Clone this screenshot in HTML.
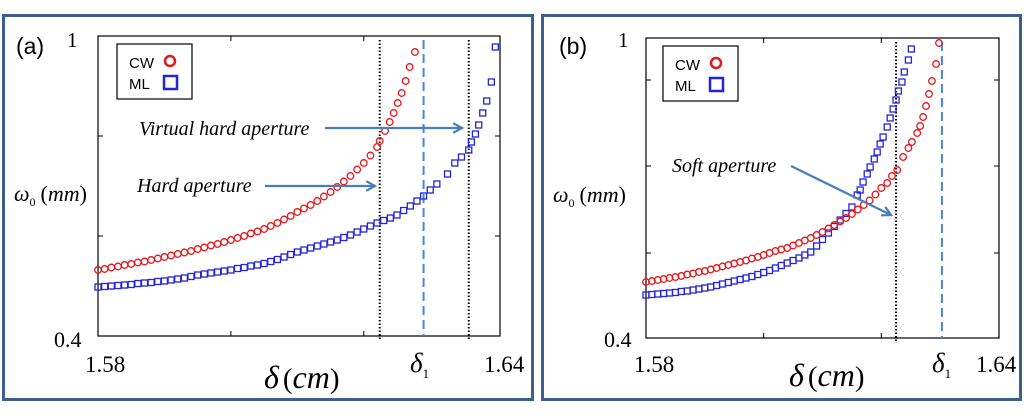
<!DOCTYPE html>
<html><head><meta charset="utf-8"><style>
html,body{margin:0;padding:0;background:#fff;width:1024px;height:419px;overflow:hidden}
svg{display:block}
.serif{font-family:"Liberation Serif",serif}
.sans{font-family:"Liberation Sans",sans-serif}
</style></head><body>
<svg id="fig" width="1024" height="419" viewBox="0 0 1024 419" xmlns="http://www.w3.org/2000/svg">
<rect x="3.5" y="15.5" width="529" height="384" fill="none" stroke="#3d5f8f" stroke-width="3"/>
<rect x="542.5" y="15.5" width="478" height="384" fill="none" stroke="#3d5f8f" stroke-width="3"/>
</svg>
<script>
// ---- Panel (a) data ----
const aCwX = [1.580,1.581,1.582,1.583,1.584,1.585,1.586,1.587,1.588,1.589,1.590,1.591,1.592,1.593,1.594,1.595,1.596,1.597,1.598,1.599,1.600,1.601,1.602,1.603,1.604,1.605,1.606,1.607,1.608,1.609,1.610,1.611,1.612,1.613,1.614,1.615,1.616,1.617,1.618,1.619,1.620,1.621,1.622,1.6224,1.6232,1.6239,1.6245,1.6251,1.6257,1.6263,1.6269,1.6277];
const aCwY = [.532,.534,.537,.539,.542,.544,.547,.549,.552,.555,.558,.561,.564,.567,.570,.574,.577,.581,.584,.588,.592,.596,.600,.605,.609,.614,.620,.626,.633,.640,.648,.655,.662,.670,.679,.688,.698,.709,.720,.733,.746,.761,.778,.790,.810,.828,.846,.866,.886,.910,.938,.968];
const aMlX = [1.580,1.581,1.582,1.583,1.584,1.585,1.586,1.587,1.588,1.589,1.590,1.591,1.592,1.593,1.594,1.595,1.596,1.597,1.598,1.599,1.600,1.601,1.602,1.603,1.604,1.605,1.606,1.607,1.608,1.609,1.610,1.611,1.612,1.613,1.614,1.615,1.616,1.617,1.618,1.619,1.620,1.621,1.622,1.623,1.624,1.625,1.626,1.627,1.628,1.629,1.630,1.631,1.6326,1.6337,1.6347,1.6358,1.6362,1.6368,1.6373,1.6379,1.6385,1.6392,1.6398];
const aMlY = [.498,.499,.500,.501,.502,.503,.505,.506,.507,.509,.510,.512,.514,.516,.519,.522,.524,.526,.528,.530,.532,.535,.537,.540,.542,.545,.549,.553,.558,.563,.568,.572,.576,.580,.584,.588,.592,.597,.602,.608,.614,.620,.626,.631,.636,.642,.651,.660,.670,.680,.692,.704,.724,.746,.758,.772,.788,.804,.822,.846,.870,.908,.978];
const aYTicks = [0.6, 0.8];
const aXTicks = [1.60, 1.62];
const aDotted = [1.6224, 1.6358];
const aDelta1 = 1.629;
// ---- Panel (b) data ----
const bCwX = [1.580,1.581,1.582,1.583,1.584,1.585,1.586,1.587,1.588,1.589,1.590,1.591,1.592,1.593,1.594,1.595,1.596,1.597,1.598,1.599,1.600,1.601,1.602,1.603,1.604,1.605,1.606,1.607,1.608,1.609,1.610,1.611,1.612,1.613,1.614,1.615,1.616,1.617,1.618,1.619,1.620,1.6210,1.6218,1.6227,1.6237,1.6246,1.6252,1.6261,1.6266,1.6271,1.6276,1.6281,1.6286,1.6293,1.6298];
const bCwY = [.512,.514,.516,.518,.520,.522,.524,.527,.529,.532,.534,.537,.540,.543,.546,.549,.552,.555,.559,.562,.566,.570,.574,.577,.580,.585,.590,.595,.600,.606,.612,.619,.626,.633,.640,.648,.657,.666,.675,.687,.700,.710,.724,.736,.762,.780,.792,.810,.824,.842,.864,.888,.914,.948,.990];
const bMlX = [1.580,1.581,1.582,1.583,1.584,1.585,1.586,1.587,1.588,1.589,1.590,1.591,1.592,1.593,1.594,1.595,1.596,1.597,1.598,1.599,1.600,1.601,1.602,1.603,1.604,1.605,1.606,1.607,1.608,1.609,1.610,1.611,1.612,1.613,1.614,1.615,1.6159,1.6164,1.6169,1.6176,1.6181,1.6188,1.6193,1.6198,1.6203,1.6210,1.6215,1.6220,1.6225,1.6229,1.6235,1.6239,1.6246,1.6251];
const bMlY = [.486,.487,.488,.489,.490,.491,.493,.494,.496,.498,.500,.502,.505,.508,.511,.514,.517,.520,.523,.527,.531,.535,.540,.545,.550,.555,.560,.566,.572,.584,.597,.610,.623,.636,.649,.662,.686,.696,.712,.728,.742,.758,.772,.788,.802,.822,.840,.858,.876,.894,.912,.932,.956,.978];
const bYTicks = [0.57, 0.744, 0.916];
const bXTicks = [1.60, 1.62];
const bDotted = [1.6225];
const bDelta1 = 1.6303;

const NS = 'http://www.w3.org/2000/svg';
const svg = document.getElementById('fig');
function mk(tag, attrs, parent, text){
  const e = document.createElementNS(NS, tag);
  for (const k in attrs) e.setAttribute(k, attrs[k]);
  if (text !== undefined) e.textContent = text;
  (parent || svg).appendChild(e);
  return e;
}
function panel(p){
  const g = mk('g', {});
  
  
  const X = v => p.L + (v - 1.58) / (p.xMax - 1.58) * (p.R - p.L);
  const Y = v => p.B - (v - 0.4) / 0.6 * (p.B - p.T);
  const ax = mk('rect', {x:p.L, y:p.T, width:p.R-p.L, height:p.B-p.T, fill:'none', stroke:'#000', 'stroke-width':1.2}, g);
  
  
  p.yTicks.forEach(v => {
    const t1 = mk('line', {x1:p.L, x2:p.L+5, y1:Y(v), y2:Y(v), stroke:'#000'}, g);
    
    
    const t2 = mk('line', {x1:p.R, x2:p.R-5, y1:Y(v), y2:Y(v), stroke:'#000'}, g);
    
    
  });
  p.xTicks.forEach(v => {
    const t1 = mk('line', {x1:X(v), x2:X(v), y1:p.B, y2:p.B-5, stroke:'#000'}, g);
    
    
    const t2 = mk('line', {x1:X(v), x2:X(v), y1:p.T, y2:p.T+5, stroke:'#000'}, g);
    
    
  });
  p.dotted.forEach(v => {
    const l = mk('line', {x1:X(v), x2:X(v), y1:p.T+4, y2:p.B+4, stroke:'#000', 'stroke-width':2, 'stroke-dasharray':'1.5 2'}, g);
    
    
  });
  const d = mk('line', {x1:X(p.delta1), x2:X(p.delta1), y1:p.T+4, y2:p.B, stroke:'#4a86d0', 'stroke-width':2, 'stroke-dasharray':'9 5'}, g);
  
  
  p.mlX.forEach((v, i) => {
    const s = mk('rect', {x:X(v)-3, y:Y(p.mlY[i])-3, width:6, height:6, fill:'none', stroke:'#2424d8', 'stroke-width':1.3}, g);
    
    
  });
  p.cwX.forEach((v, i) => {
    const c = mk('circle', {cx:X(v), cy:Y(p.cwY[i]), r:3.3, fill:'none', stroke:'#e8161a', 'stroke-width':1.3}, g);
    
    
  });
  const lg = mk('g', {}, g);
  
  
  mk('rect', {x:p.lgX, y:p.T+8, width:75, height:55, fill:'#fff', stroke:'#000', 'stroke-width':1.2}, lg);
  const e1 = mk('text', {x:p.lgX+12, y:p.T+32, 'font-size':15, class:'sans'}, lg, 'CW');
  
  
  mk('circle', {cx:p.lgX+53, cy:p.T+25, r:5, fill:'none', stroke:'#e8161a', 'stroke-width':2.5}, lg);
  const e2 = mk('text', {x:p.lgX+12, y:p.T+53, 'font-size':15, class:'sans'}, lg, 'ML');
  
  
  mk('rect', {x:p.lgX+47, y:p.T+40, width:13, height:13, fill:'none', stroke:'#2424d8', 'stroke-width':2.5}, lg);
  return {X, Y};
}
const A = panel({id:'a', L:98, R:500, T:36, B:336, xMax:1.6405, yTicks:aYTicks, xTicks:aXTicks, dotted:aDotted, delta1:aDelta1, cwX:aCwX, cwY:aCwY, mlX:aMlX, mlY:aMlY, lgX:117});
const B = panel({id:'b', L:646, R:999, T:38, B:338, xMax:1.64, yTicks:bYTicks, xTicks:bXTicks, dotted:bDotted, delta1:bDelta1, cwX:bCwX, cwY:bCwY, mlX:bMlX, mlY:bMlY, lgX:663});

function label(x, y, size, cls, txt, name, extra){
  const t = mk('text', Object.assign({x:x, y:y, 'font-size':size, class:cls}, extra || {}), svg, txt);
  
  
  return t;
}
function deltaLabel(x, y, name){
  const t = label(x, y, 32, 'serif', '', name, {'font-style':'italic'});
  mk('tspan', {}, t, 'δ');
  mk('tspan', {'font-style':'normal', 'font-size':29, dx:4}, t, '(');
  mk('tspan', {}, t, 'cm');
  mk('tspan', {'font-style':'normal', 'font-size':29}, t, ')');
}
function omegaLabel(x, y, name){
  const t = label(x, y, 22, 'serif', '', name, {'font-style':'italic'});
  mk('tspan', {}, t, 'ω');
  mk('tspan', {'font-style':'normal', 'font-size':12, dy:5}, t, '0');
  mk('tspan', {'font-style':'normal', dy:-5, dx:5}, t, '(');
  mk('tspan', {}, t, 'mm');
  mk('tspan', {'font-style':'normal'}, t, ')');
}
function d1(x, y, name){
  const t = label(x, y, 27, 'serif', '', name, {'font-style':'italic'});
  mk('tspan', {}, t, 'δ');
  mk('tspan', {'font-style':'normal', 'font-size':13, dy:6}, t, '1');
}
// panel a labels
label(16, 54, 23, 'sans', '(a)', 'panel-a-tag');
label(67, 47, 21, 'serif', '1', 'y-max-label-a');
label(54, 347, 22, 'serif', '0.4', 'y-min-label-a');
label(85, 372, 23, 'serif', '1.58', 'x-min-label-a');
label(484, 372, 23, 'serif', '1.64', 'x-max-label-a');
d1(410, 372, 'delta1-label-a');
deltaLabel(264, 388, 'x-axis-title-a');
omegaLabel(14, 201, 'y-axis-title-a');
label(139, 135, 20, 'serif', 'Virtual hard aperture', 'annotation-virtual-hard', {'font-style':'italic'});
label(137, 192, 20, 'serif', 'Hard aperture', 'annotation-hard', {'font-style':'italic'});
// panel b labels
label(559, 54, 23, 'sans', '(b)', 'panel-b-tag');
label(618, 47, 21, 'serif', '1', 'y-max-label-b');
label(604, 347, 22, 'serif', '0.4', 'y-min-label-b');
label(634, 372, 23, 'serif', '1.58', 'x-min-label-b');
label(976, 372, 23, 'serif', '1.64', 'x-max-label-b');
d1(932, 372, 'delta1-label-b');
deltaLabel(789, 386, 'x-axis-title-b');
omegaLabel(553, 202, 'y-axis-title-b');
label(672, 172, 20, 'serif', 'Soft aperture', 'annotation-soft', {'font-style':'italic'});
function arrow(x1, y1, x2, y2, name){
  const g = mk('g', {stroke:'#4a7ebb', 'stroke-width':2.2, fill:'none'});
  
  
  mk('line', {x1, y1, x2, y2}, g);
  const ang = Math.atan2(y2 - y1, x2 - x1), h = 10;
  const p1 = [x2 - h*Math.cos(ang - 0.5), y2 - h*Math.sin(ang - 0.5)];
  const p2 = [x2 - h*Math.cos(ang + 0.5), y2 - h*Math.sin(ang + 0.5)];
  mk('polyline', {points: p1.join(',') + ' ' + x2 + ',' + y2 + ' ' + p2.join(',')}, g);
}
arrow(325, 128, 462, 128, 'arrow-virtual-hard');
arrow(265, 186, 375, 186, 'arrow-hard');
arrow(791, 166, 891, 215, 'arrow-soft');
</script>
</body></html>
